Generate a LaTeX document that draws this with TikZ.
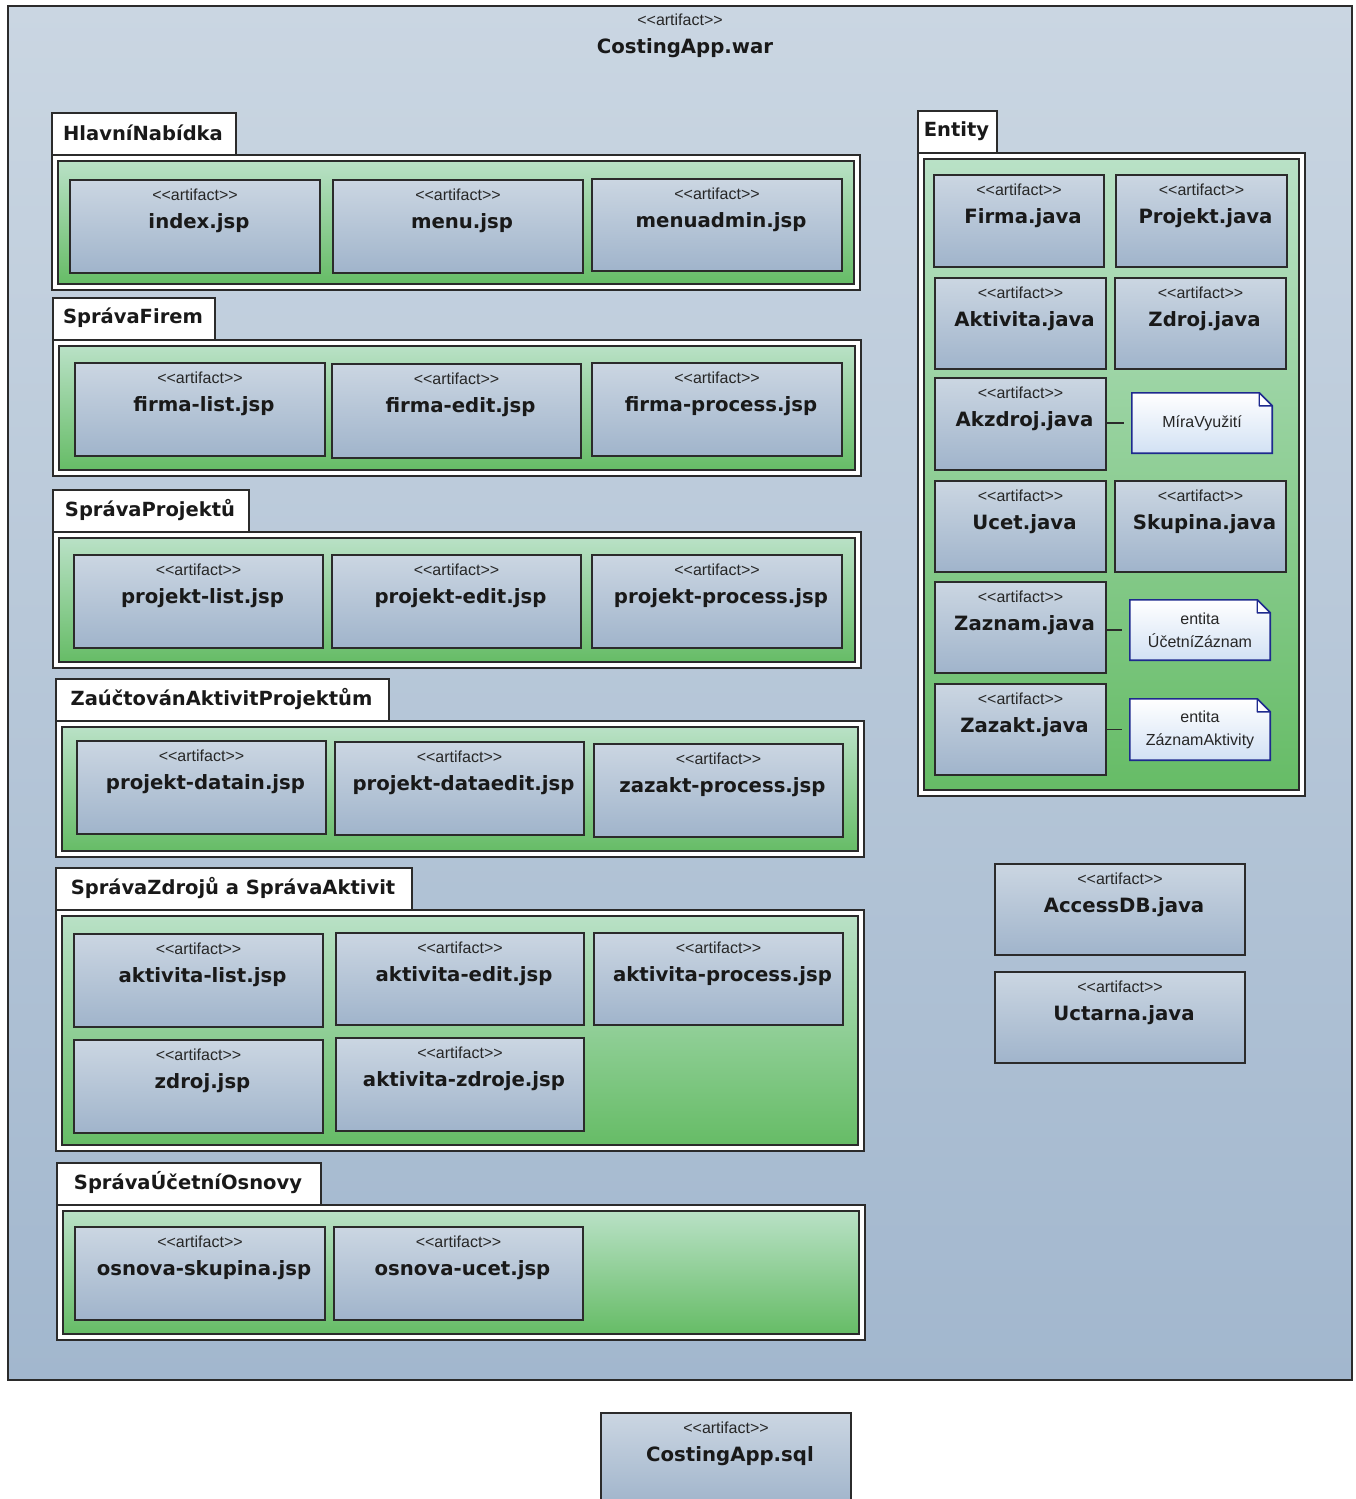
\documentclass[tikz,border=0pt]{standalone}
\usepackage{fontspec}
\setmainfont{DejaVu Sans}
\newfontfamily\labelfont{Liberation Sans}

\definecolor{bgtop}{HTML}{CAD6E2}
\definecolor{bgbot}{HTML}{A2B7CE}
\definecolor{arttop}{HTML}{CBD6E2}
\definecolor{artbot}{HTML}{A0B4CB}
\definecolor{grtop}{HTML}{B9E1C6}
\definecolor{grbot}{HTML}{66BC66}
\definecolor{notebot}{HTML}{D2E1F4}
\definecolor{notebdr}{HTML}{1E2A8E}
\definecolor{edge}{HTML}{2B2B2B}

% artifact box: id, x1, y1, x2, y2, file name
\newcommand\mkart[6]{%
  \node[artbox, minimum width={#4-#2}, minimum height={#5-#3}] (#1) at ({(#2+#4)/2},{(#3+#5)/2}) {};
  \node[stereo] (#1-st) at ([yshift=-16pt]#1.north) {{<}{<}artifact{>}{>}};
  \node[artname] (#1-nm) at ([xshift=4pt,yshift=-44pt]#1.north) {#6};
}
% package: id, label, x1, tab top, tab right, x2, body top, body bottom
\newcommand\mkpkg[8]{%
  \node[pkgbox, minimum width={#6-#3}, minimum height={#8-#7}] (#1) at ({(#3+#6)/2},{(#7+#8)/2}) {};
  \node[greenbox, minimum width={#6-#3-12}, minimum height={#8-#7-12}] (#1-in) at (#1.center) {};
  \node[pkgtab, minimum width={#5-#3}, minimum height={#7-#4}] (#1-tab) at ({(#3+#5)/2},{(#4+#7)/2}) {};
  \node[tabtext] (#1-lbl) at ([xshift=-1pt,yshift=1pt]#1-tab.center) {#2};
}
% note with folded corner: id, x1, y1, x2, y2, text
\newcommand\mknote[6]{%
  \node[inner sep=0pt, minimum width={#4-#2}, minimum height={#5-#3}] (#1) at ({(#2+#4)/2},{(#3+#5)/2}) {};
  \shadedraw[notebox] (#1.south west) -- (#1.north west) -- ([xshift=-13pt]#1.north east)
     -- ([yshift=-13pt]#1.north east) -- (#1.south east) -- cycle;
  \filldraw[draw=notebdr, fill=white, line width=1.4pt, line join=round]
     ([xshift=-13pt]#1.north east) -- ([xshift=-13pt,yshift=-13pt]#1.north east)
     -- ([yshift=-13pt]#1.north east) -- cycle;
  \node[notetext] (#1-t) at (#1.center) {#6};
}

\begin{document}
\begin{tikzpicture}[x=1pt,y=-1pt,
  edgeline/.style={draw=edge, line width=1.6pt},
  artbox/.style={edgeline, top color=arttop, bottom color=artbot, inner sep=0pt},
  stereo/.style={font=\labelfont\fontsize{16}{18}\selectfont, text=black!85, inner sep=0pt},
  artname/.style={font=\bfseries\fontsize{19.7}{22}\selectfont, text=black!90, inner sep=0pt},
  pkgbox/.style={edgeline, fill=white, inner sep=0pt},
  greenbox/.style={edgeline, top color=grtop, bottom color=grbot, inner sep=0pt},
  pkgtab/.style={edgeline, fill=white, inner sep=0pt},
  tabtext/.style={font=\bfseries\fontsize{19.5}{22}\selectfont, text=black!90, inner sep=0pt},
  notebox/.style={draw=notebdr, line width=1.6pt, top color=white, bottom color=notebot},
  notetext/.style={font=\labelfont\fontsize{16}{23}\selectfont, text=black!85, align=center, inner sep=0pt},
  link/.style={draw=edge, line width=1.6pt, shorten >=8pt},
]
\useasboundingbox (0,0) rectangle (1356,1499);
\clip (0,0) rectangle (1356,1499);
\fill[white] (0,0) rectangle (1356,1499);

% the web archive
\node[draw=edge, line width=1.5pt, top color=bgtop, bottom color=bgbot,
      minimum width=1344, minimum height=1374, inner sep=0pt] (war) at (680,693) {};
\node[stereo] (war-st) at ([yshift=-15pt]war.north) {{<}{<}artifact{>}{>}};
\node[artname] (war-nm) at ([xshift=5pt,yshift=-43pt]war.north) {CostingApp.war};

% packages of JSP pages
\mkpkg{hn}{HlavníNabídka}{52}{113}{236}{860}{155}{290}
\mkart{index}{70}{180}{320}{273}{index.jsp}
\mkart{menu}{333}{180}{583}{273}{menu.jsp}
\mkart{menuadmin}{592}{179}{842}{271}{menuadmin.jsp}

\mkpkg{sf}{SprávaFirem}{53}{298}{215}{861}{340}{476}
\mkart{firmalist}{75}{363}{325}{456}{firma-list.jsp}
\mkart{firmaedit}{332}{364}{581}{458}{firma-edit.jsp}
\mkart{firmaproc}{592}{363}{842}{456}{firma-process.jsp}

\mkpkg{sp}{SprávaProjektů}{53}{490}{249}{861}{532}{668}
\mkart{projlist}{74}{555}{323}{648}{projekt-list.jsp}
\mkart{projedit}{332}{555}{581}{648}{projekt-edit.jsp}
\mkart{projproc}{592}{555}{842}{648}{projekt-process.jsp}

\mkpkg{za}{ZaúčtovánAktivitProjektům}{56}{679}{389}{864}{721}{857}
\mkart{datain}{77}{741}{326}{834}{projekt-datain.jsp}
\mkart{dataedit}{335}{742}{584}{835}{projekt-dataedit.jsp}
\mkart{zazproc}{594}{744}{843}{837}{zazakt-process.jsp}

\mkpkg{sz}{SprávaZdrojů a SprávaAktivit}{56}{868}{412}{864}{910}{1151}
\mkart{aktlist}{74}{934}{323}{1027}{aktivita-list.jsp}
\mkart{aktedit}{336}{933}{584}{1025}{aktivita-edit.jsp}
\mkart{aktproc}{594}{933}{843}{1025}{aktivita-process.jsp}
\mkart{zdrojjsp}{74}{1040}{323}{1133}{zdroj.jsp}
\mkart{aktzdroje}{336}{1038}{584}{1131}{aktivita-zdroje.jsp}

\mkpkg{so}{SprávaÚčetníOsnovy}{57}{1163}{321}{865}{1205}{1340}
\mkart{osnskup}{75}{1227}{325}{1320}{osnova-skupina.jsp}
\mkart{osnucet}{334}{1227}{583}{1320}{osnova-ucet.jsp}

% entity classes
\mkpkg{en}{Entity}{918}{111}{997}{1305}{153}{796}
\mkart{firma}{934}{175}{1104}{267}{Firma.java}
\mkart{projekt}{1116}{175}{1287}{267}{Projekt.java}
\mkart{aktivita}{935}{278}{1106}{369}{Aktivita.java}
\mkart{zdroj}{1115}{278}{1286}{369}{Zdroj.java}
\mkart{akzdroj}{935}{378}{1106}{470}{Akzdroj.java}
\mkart{ucet}{935}{481}{1106}{572}{Ucet.java}
\mkart{skupina}{1115}{481}{1286}{572}{Skupina.java}
\mkart{zaznam}{935}{582}{1106}{673}{Zaznam.java}
\mkart{zazakt}{935}{684}{1106}{775}{Zazakt.java}

\mknote{mira}{1132}{393}{1272}{453}{MíraVyužití}
\mknote{ucz}{1130}{600}{1270}{660}{entita\\ÚčetníZáznam}
\mknote{zna}{1130}{699}{1270}{760}{entita\\ZáznamAktivity}

\draw[link] (mira.west -| akzdroj.east) -- (mira.west);
\draw[link] (ucz.west -| zaznam.east) -- (ucz.west);
\draw[link] (zna.west -| zazakt.east) -- (zna.west);

% database access
\mkart{accessdb}{995}{864}{1245}{955}{AccessDB.java}
\mkart{uctarna}{995}{972}{1245}{1063}{Uctarna.java}

% database script outside the archive
\mkart{sql}{601}{1413}{851}{1506}{CostingApp.sql}
\end{tikzpicture}
\end{document}
